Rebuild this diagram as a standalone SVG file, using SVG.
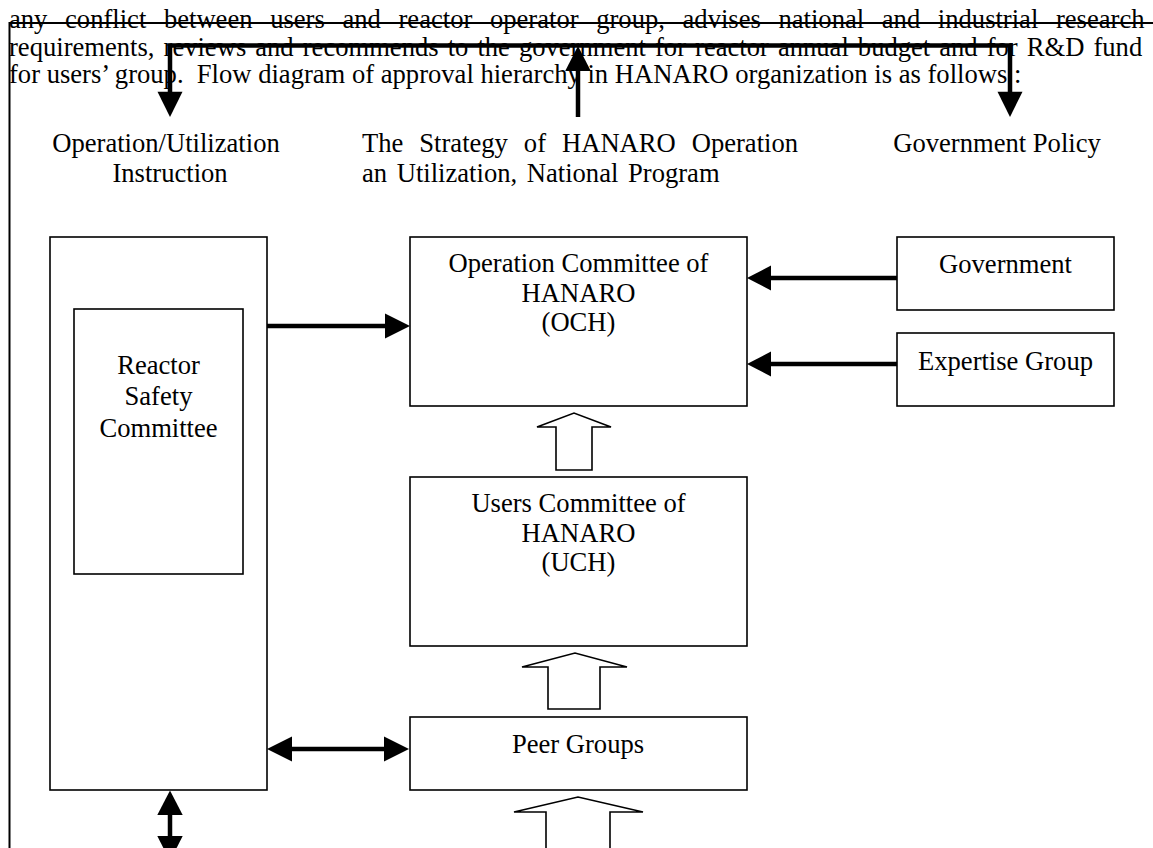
<svg xmlns="http://www.w3.org/2000/svg" width="1153" height="848" viewBox="0 0 1153 848">
<style>
text{font-family:"Liberation Serif","Times New Roman",serif;font-size:26.6px;fill:#000}
.c{text-anchor:middle}
.box{fill:#fff;stroke:#000;stroke-width:1.6}
.thick{fill:none;stroke:#000;stroke-width:4.5}
.head{fill:#000;stroke:none}
.hollow{fill:#fff;stroke:#000;stroke-width:1.6;stroke-linejoin:miter}
.frame{fill:none;stroke:#000;stroke-width:2}
</style>
<rect x="0" y="0" width="1153" height="848" fill="#fff"/>

<g id="page-text">
<text x="9" y="28" word-spacing="11">any conflict between users and reactor operator group, advises national and industrial research</text>
<text x="9" y="55.5" word-spacing="2.4">requirements, reviews and recommends to the government for reactor annual budget and for R&amp;D fund</text>
<text x="9" y="83" xml:space="preserve">for users’ group.  Flow diagram of approval hierarchy in HANARO organization is as follows :</text>
</g>

<g id="frame">
<line class="frame" x1="9" y1="23" x2="1153" y2="23"/>
<line class="frame" x1="9.5" y1="22" x2="9.5" y2="848"/>
</g>

<g id="label-instruction">
<text class="c" x="166" y="151.7">Operation/Utilization</text>
<text class="c" x="170" y="181.7">Instruction</text>
</g>
<g id="label-strategy">
<text x="362" y="151.7" word-spacing="9.3">The Strategy of HANARO Operation</text>
<text x="362" y="181.7" word-spacing="3">an Utilization, National Program</text>
</g>
<g id="label-policy">
<text class="c" x="997" y="151.7">Government Policy</text>
</g>

<g id="connectors">
<!-- top distribution line -->
<polyline class="thick" points="170,93 170,45.5 1010,45.5 1010,93"/>
<polygon class="head" points="157.5,91.7 182.5,91.7 170,117"/>
<polygon class="head" points="997.5,91.7 1022.5,91.7 1010,117"/>
<line class="thick" x1="578" y1="117" x2="578" y2="68"/>
<polygon class="head" points="565.2,71 590.8,71 578,46"/>
<!-- outer box to OCH -->
<line class="thick" x1="267" y1="326" x2="388" y2="326"/>
<polygon class="head" points="385,313.5 385,338.5 410,326"/>
<!-- government / expertise to OCH -->
<line class="thick" x1="897" y1="278" x2="768" y2="278"/>
<polygon class="head" points="771,265.5 771,290.5 747,278"/>
<line class="thick" x1="897" y1="364" x2="768" y2="364"/>
<polygon class="head" points="771,351.5 771,376.5 747,364"/>
<!-- double arrow outer box <-> peer groups -->
<line class="thick" x1="290" y1="749" x2="386" y2="749"/>
<polygon class="head" points="267,749 292,736.5 292,761.5"/>
<polygon class="head" points="409,749 384,736.5 384,761.5"/>
<!-- vertical double arrow below outer box -->
<line class="thick" x1="170" y1="812" x2="170" y2="840"/>
<polygon class="head" points="170,790.5 157.3,815 182.7,815"/>
<polygon class="head" points="157.3,836 182.7,836 170,861"/>
<!-- hollow arrows -->
<polygon class="hollow" points="556,470 556,427 537,427 574,413 611,427 592,427 592,470"/>
<polygon class="hollow" points="548,709 548,667 522,667 575,653 627,667 600,667 600,709"/>
<polygon class="hollow" points="546,860 546,812 514,812 578,797 643,812 610,812 610,860"/>
</g>

<g id="node-reactor-outer">
<rect class="box" x="50" y="237" width="217" height="553"/>
</g>
<g id="node-reactor-safety">
<rect class="box" x="74" y="309" width="169" height="265"/>
<text class="c" x="158.5" y="374">Reactor</text>
<text class="c" x="158.5" y="405">Safety</text>
<text class="c" x="158.5" y="436.5">Committee</text>
</g>
<g id="node-och">
<rect class="box" x="410" y="237" width="337" height="169"/>
<text class="c" x="578.5" y="272">Operation Committee of</text>
<text class="c" x="578.5" y="301.5">HANARO</text>
<text class="c" x="578.5" y="330.5">(OCH)</text>
</g>
<g id="node-government">
<rect class="box" x="897" y="237" width="217" height="73"/>
<text class="c" x="1005.5" y="273">Government</text>
</g>
<g id="node-expertise">
<rect class="box" x="897" y="333" width="217" height="73"/>
<text class="c" x="1005.5" y="370">Expertise Group</text>
</g>
<g id="node-uch">
<rect class="box" x="410" y="477" width="337" height="169"/>
<text class="c" x="578.5" y="511.7">Users Committee of</text>
<text class="c" x="578.5" y="541.5">HANARO</text>
<text class="c" x="578.5" y="570.5">(UCH)</text>
</g>
<g id="node-peer">
<rect class="box" x="410" y="717" width="337" height="73"/>
<text class="c" x="578" y="753.3">Peer Groups</text>
</g>
</svg>
